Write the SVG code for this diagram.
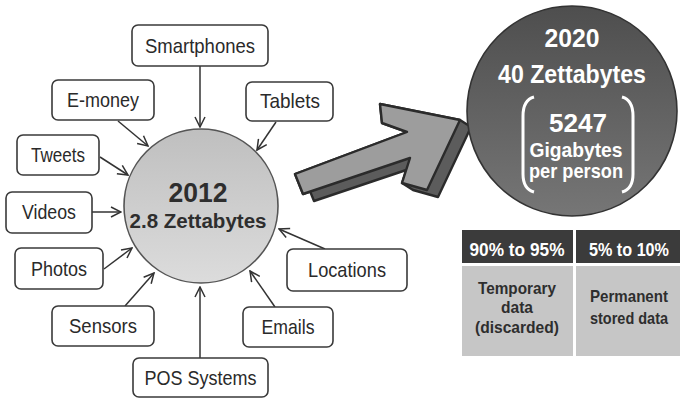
<svg xmlns="http://www.w3.org/2000/svg" width="680" height="399" viewBox="0 0 680 399">
  <defs>
    <style>
      .box { fill: #ffffff; stroke: #3a3a3a; stroke-width: 1.6; }
      .lbl { font-family: "Liberation Sans Narrow", "Liberation Sans", Arial, sans-serif; font-size: 21px; fill: #2a2a2a; text-anchor: middle; }
      .link { stroke: #333333; stroke-width: 1.5; fill: none; }
      .bold { font-family: "Liberation Sans Narrow", "Liberation Sans", Arial, sans-serif; font-weight: bold; text-anchor: middle; }
      .wt { fill: #ffffff; }
      .dk { fill: #2e2e2e; }
    </style>
    <marker id="tip" viewBox="0 0 12 12" refX="11" refY="6" markerWidth="12" markerHeight="12" markerUnits="userSpaceOnUse" orient="auto">
      <path d="M1,1 L11,6 L1,11" fill="none" stroke="#333333" stroke-width="1.5"/>
    </marker>
    <linearGradient id="gLight" x1="0" y1="0" x2="0" y2="1">
      <stop offset="0" stop-color="#bfbfbf"/>
      <stop offset="1" stop-color="#dcdcdc"/>
    </linearGradient>
    <linearGradient id="gDark" x1="0" y1="0" x2="0" y2="1">
      <stop offset="0" stop-color="#4e4e4e"/>
      <stop offset="1" stop-color="#767676"/>
    </linearGradient>
  </defs>

  <!-- connectors into the 2012 circle -->
  <g id="connectors">
    <line class="link" x1="200" y1="66" x2="200" y2="127" marker-end="url(#tip)"/>
    <line class="link" x1="118" y1="121" x2="148" y2="146" marker-end="url(#tip)"/>
    <line class="link" x1="276" y1="122" x2="257" y2="150" marker-end="url(#tip)"/>
    <line class="link" x1="100" y1="157" x2="128" y2="175" marker-end="url(#tip)"/>
    <line class="link" x1="92" y1="212" x2="121" y2="212" marker-end="url(#tip)"/>
    <line class="link" x1="104" y1="269" x2="132" y2="248" marker-end="url(#tip)"/>
    <line class="link" x1="125" y1="306" x2="154" y2="273" marker-end="url(#tip)"/>
    <line class="link" x1="200" y1="358" x2="200" y2="287" marker-end="url(#tip)"/>
    <line class="link" x1="275" y1="307" x2="250" y2="271" marker-end="url(#tip)"/>
    <line class="link" x1="325" y1="249" x2="279" y2="229" marker-end="url(#tip)"/>
  </g>

  <!-- centre circle -->
  <g id="node-2012">
    <circle cx="201" cy="206" r="77" fill="url(#gLight)" stroke="#555555" stroke-width="1.6"/>
    <text class="bold dk" x="198" y="202" font-size="28" textLength="59" lengthAdjust="spacingAndGlyphs">2012</text>
    <text class="bold dk" x="198" y="228" font-size="20" textLength="137" lengthAdjust="spacingAndGlyphs">2.8 Zettabytes</text>
  </g>

  <!-- source boxes -->
  <g id="node-smartphones">
    <rect class="box" x="132" y="25" width="136" height="41" rx="6"/>
    <text class="lbl" x="200" y="53" textLength="110" lengthAdjust="spacingAndGlyphs">Smartphones</text>
  </g>
  <g id="node-emoney">
    <rect class="box" x="52" y="80" width="102" height="40" rx="6"/>
    <text class="lbl" x="103" y="107" textLength="72" lengthAdjust="spacingAndGlyphs">E-money</text>
  </g>
  <g id="node-tablets">
    <rect class="box" x="246" y="82" width="87" height="39" rx="6"/>
    <text class="lbl" x="290" y="108" textLength="60" lengthAdjust="spacingAndGlyphs">Tablets</text>
  </g>
  <g id="node-tweets">
    <rect class="box" x="17" y="135" width="82" height="40" rx="6"/>
    <text class="lbl" x="58" y="162" textLength="54" lengthAdjust="spacingAndGlyphs">Tweets</text>
  </g>
  <g id="node-videos">
    <rect class="box" x="6" y="192" width="86" height="41" rx="6"/>
    <text class="lbl" x="49" y="219" textLength="54" lengthAdjust="spacingAndGlyphs">Videos</text>
  </g>
  <g id="node-photos">
    <rect class="box" x="15" y="248" width="88" height="41" rx="6"/>
    <text class="lbl" x="59" y="276" textLength="56" lengthAdjust="spacingAndGlyphs">Photos</text>
  </g>
  <g id="node-sensors">
    <rect class="box" x="52" y="306" width="102" height="40" rx="6"/>
    <text class="lbl" x="103" y="333" textLength="68" lengthAdjust="spacingAndGlyphs">Sensors</text>
  </g>
  <g id="node-pos">
    <rect class="box" x="133" y="358" width="135" height="39" rx="6"/>
    <text class="lbl" x="200.5" y="385" textLength="112" lengthAdjust="spacingAndGlyphs">POS Systems</text>
  </g>
  <g id="node-emails">
    <rect class="box" x="243" y="307" width="90" height="40" rx="6"/>
    <text class="lbl" x="288" y="334" textLength="53" lengthAdjust="spacingAndGlyphs">Emails</text>
  </g>
  <g id="node-locations">
    <rect class="box" x="287" y="249" width="120" height="42" rx="6"/>
    <text class="lbl" x="347" y="277" textLength="78" lengthAdjust="spacingAndGlyphs">Locations</text>
  </g>

  <!-- big 3D growth arrow: dark extruded body, then light front face -->
  <g id="growth-arrow" stroke="#2b2b2b" stroke-width="2.4" stroke-linejoin="round">
    <path d="M295,174 L407,132 L382,123 L380,104 L460,120 L471,127 L438,197 L413,190 L402,183 L406.2,170 L314,201 L310.2,191.6 L303,194 Z" fill="#5c5c5c"/>
    <path d="M295,174 L407,132 L382,123 L380,104 L460,120 L427,190 L402,183 L410,158 L303,194 Z" fill="#9d9d9d"/>
  </g>

  <!-- 2020 circle -->
  <g id="node-2020">
    <circle cx="572" cy="111" r="105" fill="url(#gDark)" stroke="#333333" stroke-width="1.6"/>
    <text class="bold wt" x="572" y="47" font-size="25" textLength="55" lengthAdjust="spacingAndGlyphs">2020</text>
    <text class="bold wt" x="572" y="83" font-size="25" textLength="148" lengthAdjust="spacingAndGlyphs">40 Zettabytes</text>
    <text class="bold wt" x="578" y="132" font-size="26" textLength="58" lengthAdjust="spacingAndGlyphs">5247</text>
    <text class="bold wt" x="576" y="157" font-size="21" textLength="93" lengthAdjust="spacingAndGlyphs">Gigabytes</text>
    <text class="bold wt" x="576" y="178" font-size="21" textLength="94" lengthAdjust="spacingAndGlyphs">per person</text>
    <path d="M534,97 Q523,100 523,116 L523,174 Q523,189 534,192" fill="none" stroke="#ffffff" stroke-width="3"/>
    <path d="M622,97 Q633,100 633,116 L633,174 Q633,189 622,192" fill="none" stroke="#ffffff" stroke-width="3"/>
  </g>

  <!-- split of stored data -->
  <g id="node-table">
    <rect x="462" y="230" width="111" height="33" fill="#3b3b3b"/>
    <rect x="576" y="230" width="104" height="33" fill="#3b3b3b"/>
    <rect x="462" y="266" width="111" height="90" fill="#c6c6c6"/>
    <rect x="576" y="266" width="104" height="90" fill="#c6c6c6"/>
    <text class="bold wt" x="517" y="256" font-size="19" textLength="95" lengthAdjust="spacingAndGlyphs">90% to 95%</text>
    <text class="bold wt" x="629" y="256" font-size="19" textLength="80" lengthAdjust="spacingAndGlyphs">5% to 10%</text>
    <text class="bold dk" x="517" y="294" font-size="17" textLength="78" lengthAdjust="spacingAndGlyphs">Temporary</text>
    <text class="bold dk" x="517" y="313" font-size="17" textLength="32" lengthAdjust="spacingAndGlyphs">data</text>
    <text class="bold dk" x="517" y="333" font-size="17" textLength="84" lengthAdjust="spacingAndGlyphs">(discarded)</text>
    <text class="bold dk" x="629" y="302" font-size="17" textLength="78" lengthAdjust="spacingAndGlyphs">Permanent</text>
    <text class="bold dk" x="629" y="324" font-size="17" textLength="78" lengthAdjust="spacingAndGlyphs">stored data</text>
  </g>
</svg>
